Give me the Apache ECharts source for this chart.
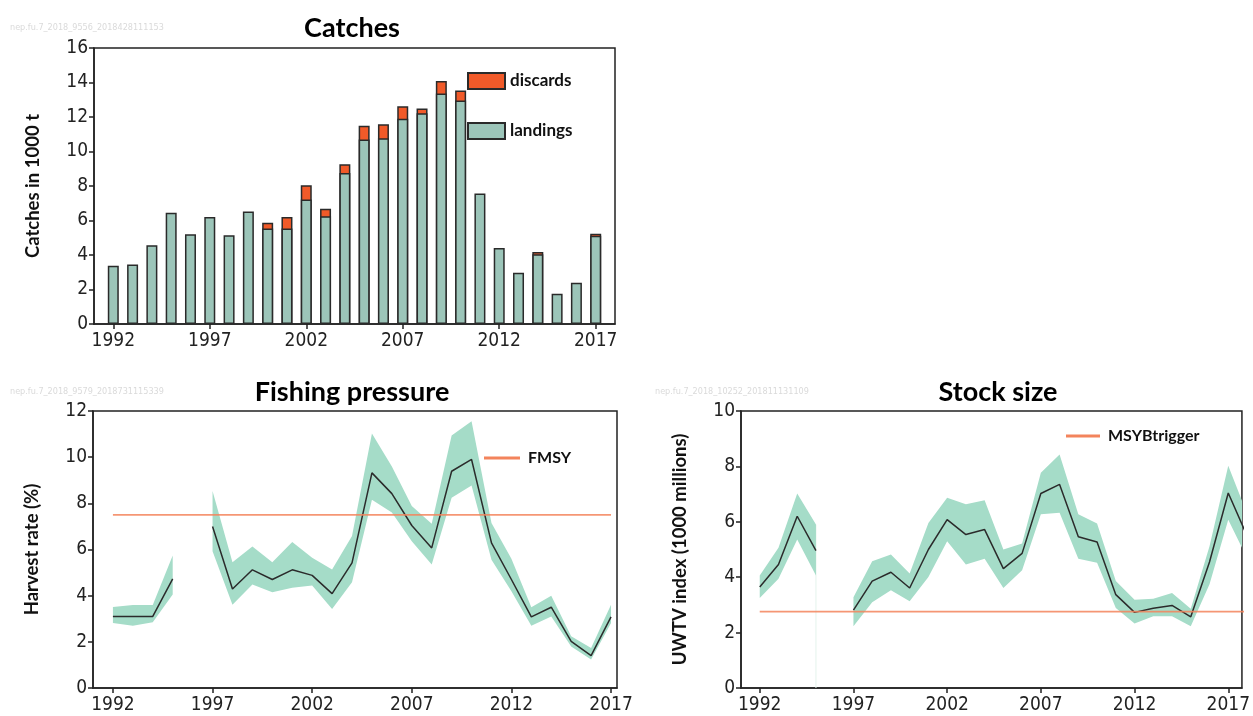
<!DOCTYPE html>
<html>
<head>
<meta charset="utf-8">
<script src="https://cdn.jsdelivr.net/npm/echarts@6/dist/echarts.min.js"></script>
<style>
html,body{margin:0;padding:0;background:#fff;}
#c{width:1253px;height:716px;}
</style>
</head>
<body>
<div id="c"></div>
<script>
// ---- Catches ----
var catchYears = [1992,1993,1994,1995,1996,1997,1998,1999,2000,2001,2002,2003,2004,2005,2006,2007,2008,2009,2010,2011,2012,2013,2014,2015,2016,2017];
var landings = [3.38,3.45,4.57,6.45,5.21,6.2,5.15,6.52,5.54,5.54,7.22,6.25,8.76,10.7,10.77,11.9,12.22,13.36,12.95,7.57,4.4,2.97,4.05,1.76,2.39,5.12];
var discards = [0,0,0,0,0,0,0,0,0.33,0.66,0.83,0.43,0.5,0.8,0.81,0.72,0.27,0.73,0.58,0,0,0,0.12,0,0,0.11];

// ---- Fishing pressure (harvest rate %) ----
var fpYears = [1992,1993,1994,1995,1996,1997,1998,1999,2000,2001,2002,2003,2004,2005,2006,2007,2008,2009,2010,2011,2012,2013,2014,2015,2016,2017];
var harvestRate = [3.1,3.1,3.1,4.73,null,7.0,4.29,5.12,4.7,5.12,4.88,4.09,5.42,9.32,8.42,7.04,6.07,9.39,9.9,6.29,4.7,3.08,3.5,2.02,1.4,3.08];
var harvestHigh = [3.51,3.6,3.6,5.74,null,8.53,5.45,6.13,5.45,6.33,5.64,5.13,6.58,11.03,9.6,7.88,7.12,10.94,11.56,7.15,5.6,3.5,4.0,2.24,1.73,3.61];
var harvestLow = [2.82,2.7,2.85,4.05,null,5.92,3.61,4.48,4.15,4.34,4.44,3.42,4.58,8.16,7.6,6.36,5.35,8.24,8.77,5.56,4.19,2.7,3.1,1.8,1.23,2.82];
var fmsy = 7.5;

// ---- Stock size (UWTV index) ----
var stockYears = [1992,1993,1994,1995,1996,1997,1998,1999,2000,2001,2002,2003,2004,2005,2006,2007,2008,2009,2010,2011,2012,2013,2014,2015,2016,2017,2018];
var uwtv = [3.65,4.46,6.2,4.96,null,2.81,3.86,4.18,3.61,5.0,6.08,5.54,5.72,4.31,4.86,7.02,7.35,5.46,5.27,3.37,2.73,2.88,2.98,2.57,4.55,7.04,5.5];
var uwtvHigh = [4.06,5.06,7.02,5.9,null,3.28,4.58,4.82,4.13,5.96,6.87,6.63,6.78,5.0,5.22,7.77,8.43,6.27,5.94,3.86,3.19,3.22,3.43,2.86,5.12,8.02,6.3];
var uwtvLow = [3.25,3.94,5.36,4.06,null,2.23,3.1,3.53,3.13,4.01,5.3,4.46,4.67,3.61,4.25,6.27,6.33,4.67,4.52,2.89,2.33,2.59,2.59,2.23,3.75,6.07,4.7];
var msyBtrigger = 2.76;

var tickYears = [1992,1997,2002,2007,2012,2017];

// ---- styles ----
var NARROW = "'Liberation Sans Narrow','DejaVu Sans Condensed','Liberation Sans',sans-serif";
var BOLD = "Lato,'Open Sans',sans-serif";
var AX = '#222';
var BAND = '#a5dcc8';
var LINE = '#2b2b2b';
var REF = '#f3845c';

function pairs(xs, ys) {
  return xs.map(function (x, i) { return [x, ys[i] == null ? '-' : ys[i]]; });
}

function bandSeries(xs, lo, hi, xi, yi) {
  return {
    type: 'custom',
    xAxisIndex: xi, yAxisIndex: yi,
    silent: true,
    z: 1,
    data: xs.map(function (x, i) { return [x, lo[i], hi[i]]; }),
    encode: { x: 0, y: [1, 2] },
    renderItem: function (params, api) {
      if (params.dataIndex !== 0) return null;
      var segs = [], cur = [];
      for (var i = 0; i < xs.length; i++) {
        if (lo[i] == null || hi[i] == null) { if (cur.length) segs.push(cur); cur = []; }
        else cur.push(i);
      }
      if (cur.length) segs.push(cur);
      var children = segs.map(function (seg) {
        var top = seg.map(function (i) { return api.coord([xs[i], hi[i]]); });
        var bot = seg.slice().reverse().map(function (i) { return api.coord([xs[i], lo[i]]); });
        return { type: 'polygon', shape: { points: top.concat(bot) }, style: { fill: BAND } };
      });
      var cs = params.coordSys;
      return {
        type: 'group',
        clipPath: { type: 'rect', shape: { x: cs.x, y: cs.y, width: cs.width, height: cs.height } },
        children: children
      };
    }
  };
}

function xAxisCfg(gi, min, max) {
  return {
    type: 'value', gridIndex: gi, min: min, max: max,
    splitLine: { show: false },
    axisLine: { onZero: false, lineStyle: { color: AX, width: 1.5 } },
    axisTick: { customValues: tickYears, length: 5, lineStyle: { color: AX, width: 1.5 } },
    axisLabel: { customValues: tickYears, color: AX, fontSize: 19, fontFamily: NARROW, margin: 8,
      formatter: function (v) { return String(v); } }
  };
}
function yAxisCfg(gi, max, name, gap) {
  return {
    type: 'value', gridIndex: gi, min: 0, max: max, interval: 2,
    name: name, nameLocation: 'middle', nameGap: gap, nameRotate: 90,
    nameTextStyle: { fontFamily: BOLD, fontWeight: 'bold', fontSize: 18.5, color: '#111' },
    splitLine: { show: false },
    axisLine: { show: true, lineStyle: { color: AX, width: 1.5 } },
    axisTick: { show: true, length: 5, lineStyle: { color: AX, width: 1.5 } },
    axisLabel: { color: AX, fontSize: 19, fontFamily: NARROW, margin: 6 }
  };
}

var totals = catchYears.map(function (y, i) { return discards[i] > 0 ? [y, +(landings[i] + discards[i]).toFixed(2)] : [y, '-']; });

var legendText = { fontFamily: BOLD, fontWeight: 'bold', fontSize: 17, color: '#111' };

var option = {
  animation: false,
  backgroundColor: '#fff',
  grid: [
    { left: 94, top: 48, width: 521, height: 276, show: true, borderColor: AX, borderWidth: 1.5 },
    { left: 93, top: 411, width: 524, height: 277, show: true, borderColor: AX, borderWidth: 1.5 },
    { left: 741, top: 411, width: 511, height: 277, show: true, borderColor: AX, borderWidth: 1.5 }
  ],
  xAxis: [
    xAxisCfg(0, 1991, 2018),
    xAxisCfg(1, 1991, 2017.3),
    xAxisCfg(2, 1991, 2017.73)
  ],
  yAxis: [
    yAxisCfg(0, 16, 'Catches in 1000 t', 51),
    yAxisCfg(1, 12, 'Harvest rate (%)', 51),
    yAxisCfg(2, 10, 'UWTV index (1000 millions)', 51)
  ],
  legend: [
    {
      data: ['discards', 'landings'], orient: 'vertical', left: 462, top: 67,
      itemWidth: 37, itemHeight: 16, itemGap: 32, icon: 'rect', selectedMode: false,
      textStyle: legendText
    },
    {
      data: ['FMSY'], left: 479, top: 445, icon: 'rect', itemWidth: 36, itemHeight: 3, selectedMode: false,
      textStyle: Object.assign({}, legendText, { fontSize: 16, padding: [0, 0, 0, 3] })
    },
    {
      data: ['MSYBtrigger'], left: 1061, top: 423, icon: 'rect', itemWidth: 34, itemHeight: 3, selectedMode: false,
      textStyle: Object.assign({}, legendText, { fontSize: 16, padding: [0, 0, 0, 3] })
    }
  ],
  graphic: [
    { type: 'text', x: 352, y: 28, style: { text: 'Catches', textAlign: 'center', textVerticalAlign: 'middle', font: 'bold 27px ' + BOLD, fill: '#000' } },
    { type: 'text', x: 352, y: 392, style: { text: 'Fishing pressure', textAlign: 'center', textVerticalAlign: 'middle', font: 'bold 27px ' + BOLD, fill: '#000' } },
    { type: 'text', x: 998, y: 392, style: { text: 'Stock size', textAlign: 'center', textVerticalAlign: 'middle', font: 'bold 27px ' + BOLD, fill: '#000' } },
    { type: 'text', x: 10, y: 28, style: { text: 'nep.fu.7_2018_9556_2018428111153', textVerticalAlign: 'middle', font: '9px ' + NARROW, fill: '#dadada' } },
    { type: 'text', x: 10, y: 392, style: { text: 'nep.fu.7_2018_9579_2018731115339', textVerticalAlign: 'middle', font: '9px ' + NARROW, fill: '#dadada' } },
    { type: 'text', x: 655, y: 392, style: { text: 'nep.fu.7_2018_10252_201811131109', textVerticalAlign: 'middle', font: '9px ' + NARROW, fill: '#dadada' } }
  ],
  series: [
    {
      name: 'discards', type: 'bar', xAxisIndex: 0, yAxisIndex: 0,
      data: totals, barWidth: 11, barGap: '-100%', z: 2,
      itemStyle: { color: '#f15a29', borderColor: '#2a2a2a', borderWidth: 1.5 }
    },
    {
      name: 'landings', type: 'bar', xAxisIndex: 0, yAxisIndex: 0,
      data: pairs(catchYears, landings), barWidth: 11, barGap: '-100%', z: 3,
      itemStyle: { color: '#9cc5b9', borderColor: '#2a2a2a', borderWidth: 1.5 }
    },
    bandSeries(fpYears, harvestLow, harvestHigh, 1, 1),
    {
      name: 'Harvest rate', type: 'line', xAxisIndex: 1, yAxisIndex: 1,
      data: pairs(fpYears, harvestRate), showSymbol: false, symbol: 'none', connectNulls: false, z: 3,
      lineStyle: { color: LINE, width: 1.5 }, itemStyle: { color: LINE }
    },
    {
      name: 'FMSY', type: 'line', xAxisIndex: 1, yAxisIndex: 1,
      data: [[fpYears[0], fmsy], [fpYears[fpYears.length - 1], fmsy]], symbol: 'none', z: 4,
      lineStyle: { color: REF, width: 1.8, opacity: 0.85 }, itemStyle: { color: REF }
    },
    {
      name: 'gap', type: 'line', xAxisIndex: 2, yAxisIndex: 2, silent: true,
      data: [[1995, 0], [1995, uwtvHigh[3]]], symbol: 'none', z: 0,
      lineStyle: { color: '#e4f3ec', width: 1 }
    },
    bandSeries(stockYears, uwtvLow, uwtvHigh, 2, 2),
    {
      name: 'UWTV', type: 'line', xAxisIndex: 2, yAxisIndex: 2,
      data: pairs(stockYears, uwtv), showSymbol: false, symbol: 'none', connectNulls: false, z: 3,
      lineStyle: { color: LINE, width: 1.5 }, itemStyle: { color: LINE }
    },
    {
      name: 'MSYBtrigger', type: 'line', xAxisIndex: 2, yAxisIndex: 2,
      data: [[stockYears[0], msyBtrigger], [stockYears[stockYears.length - 1], msyBtrigger]], symbol: 'none', z: 4,
      lineStyle: { color: REF, width: 1.8, opacity: 0.85 }, itemStyle: { color: REF }
    }
  ]
};

var chart = echarts.init(document.getElementById('c'), null, { renderer: 'canvas' });
chart.setOption(option);
</script>
</body>
</html>
